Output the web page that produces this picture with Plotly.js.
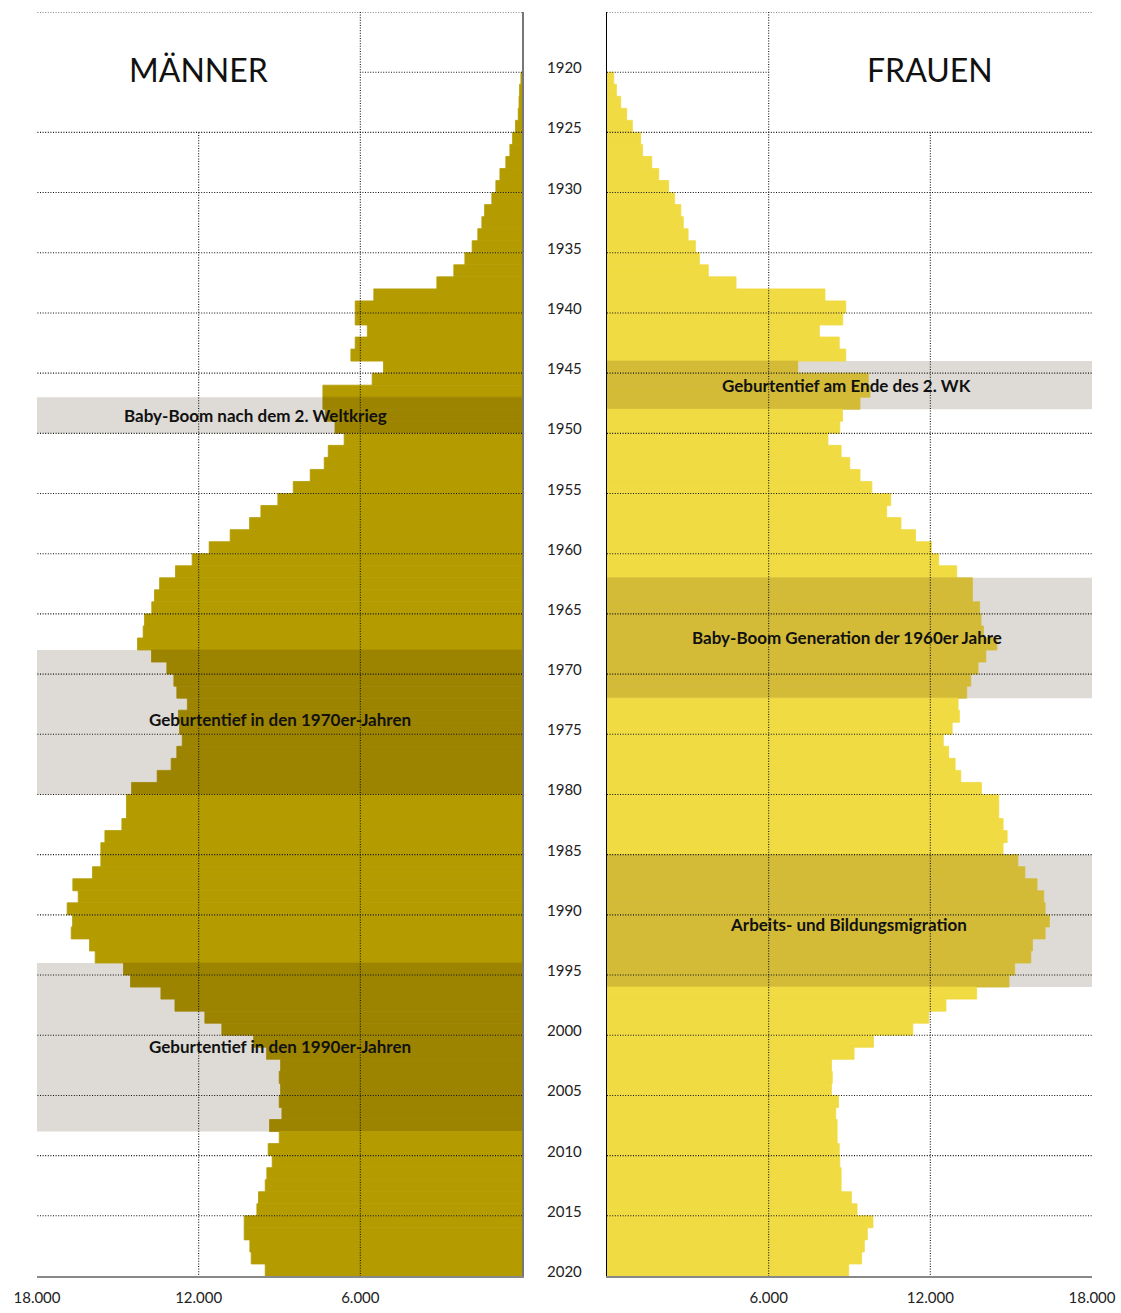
<!DOCTYPE html>
<html><head><meta charset="utf-8">
<script src="https://cdn.plot.ly/plotly-3.0.1.min.js"></script>
<style>html,body{margin:0;padding:0;background:#fff}#chart{width:1121px;height:1313px}</style>
</head><body><div id="chart"></div>
<script>
// ---- data ----
const years = [1920,1921,1922,1923,1924,1925,1926,1927,1928,1929,
1930,1931,1932,1933,1934,1935,1936,1937,1938,1939,
1940,1941,1942,1943,1944,1945,1946,1947,1948,1949,
1950,1951,1952,1953,1954,1955,1956,1957,1958,1959,
1960,1961,1962,1963,1964,1965,1966,1967,1968,1969,
1970,1971,1972,1973,1974,1975,1976,1977,1978,1979,
1980,1981,1982,1983,1984,1985,1986,1987,1988,1989,
1990,1991,1992,1993,1994,1995,1996,1997,1998,1999,
2000,2001,2002,2003,2004,2005,2006,2007,2008,2009,
2010,2011,2012,2013,2014,2015,2016,2017,2018,2019];

const men = [40,90,110,140,240,350,450,600,820,970,
1120,1390,1490,1640,1850,2120,2530,3160,5500,6190,
6190,5740,6190,6350,5140,5560,7390,7390,7300,6940,
6600,7190,7340,7860,8490,9060,9690,10110,10830,11610,
12240,12860,13450,13640,13740,14010,14060,14270,13750,13180,
12920,12810,12420,12750,12710,12610,12810,13020,13540,14490,
14680,14680,14850,15480,15630,15630,15940,16670,16470,16880,
16680,16730,16050,15840,14790,14530,13400,12880,11770,11140,
9960,9480,8960,9010,8960,9010,8910,9370,9010,9420,
9270,9470,9530,9780,9840,10310,10310,10100,10050,9530];

const women = [250,350,510,730,940,1250,1320,1660,1920,2290,
2510,2740,2830,3010,3280,3430,3760,4790,8090,8860,
8750,7880,8620,8860,7080,9700,9760,9390,8740,8640,
8200,8690,9010,9390,9830,10530,10380,10910,11450,12040,
12310,12980,13560,13560,13830,13880,13970,14470,14060,13770,
13500,13350,13030,13080,12810,12480,12680,12920,13130,13900,
14540,14540,14700,14850,14700,15250,15510,15960,16210,16260,
16420,16260,15790,15730,15130,14920,13720,12580,11940,11350,
9890,9170,8330,8360,8330,8590,8490,8540,8540,8620,
8640,8690,8690,9070,9280,9870,9660,9550,9450,8970];

const yearLabels = [1920,1925,1930,1935,1940,1945,1950,1955,1960,1965,1970,
1975,1980,1985,1990,1995,2000,2005,2010,2015,2020];
const gridYears = [1915,1920,1925,1930,1935,1940,1945,1950,1955,1960,1965,
1970,1975,1980,1985,1990,1995,2000,2005,2010,2015];
const xTickVals = [6000,12000,18000];
const xTickText = ['6.000','12.000','18.000'];

const menBandFrom = [1947,1968,1994];
const menBandTo = [1950,1980,2008];
const menBandLabels = ['Baby-Boom nach dem 2. Weltkrieg','Geburtentief in den 1970er-Jahren','Geburtentief in den 1990er-Jahren'];
const womenBandFrom = [1944,1962,1985];
const womenBandTo = [1948,1972,1996];
const womenBandLabels = ['Geburtentief am Ende des 2. WK','Baby-Boom Generation der 1960er Jahre','Arbeits- und Bildungsmigration'];

// ---- styles ----
const C = {
  men:'#b49c00', menDark:'#9d8400',
  women:'#f0db42', womenDark:'#d3bb38',
  band:'#dedbd6'
};
const FONT = 'Lato, "Open Sans", sans-serif';
const menLabelX = [9900, 9000, 9000];
const menLabelShift = [0, 3, 1];
const womenLabelX = [8900, 8900, 8980];
const womenLabelShift = [0, 0, -4];

function inBand(y, from, to){
  for (let i=0;i<from.length;i++) if (y>=from[i] && y<to[i]) return true;
  return false;
}
const menColors = years.map(y => inBand(y, menBandFrom, menBandTo) ? C.menDark : C.men);
const womenColors = years.map(y => inBand(y, womenBandFrom, womenBandTo) ? C.womenDark : C.women);

const traces = [
  {type:'bar', orientation:'h', x:men, y:years, width:1, offset:0,
   marker:{color:menColors, line:{width:0.8, color:menColors}}, xaxis:'x', yaxis:'y', hoverinfo:'x+y'},
  {type:'bar', orientation:'h', x:women, y:years, width:1, offset:0,
   marker:{color:womenColors, line:{width:0.8, color:womenColors}}, xaxis:'x2', yaxis:'y2', hoverinfo:'x+y'}
];

const shapes = [];
// bands
menBandFrom.forEach((f,i)=>shapes.push({type:'rect', xref:'x', yref:'y', x0:0, x1:18000, y0:f, y1:menBandTo[i],
  fillcolor:C.band, line:{width:0}, layer:'below'}));
womenBandFrom.forEach((f,i)=>shapes.push({type:'rect', xref:'x2', yref:'y2', x0:0, x1:18000, y0:f, y1:womenBandTo[i],
  fillcolor:C.band, line:{width:0}, layer:'below'}));
// dotted grid
const gl = {color:'#111', width:1.1, dash:'1px,1.6px'};
gridYears.forEach(g=>{
  const xe = (g===1920) ? 6000 : 18000;
  shapes.push({type:'line', xref:'x', yref:'y', x0:0, x1:xe, y0:g, y1:g, line:gl, layer:'above'});
  shapes.push({type:'line', xref:'x2', yref:'y2', x0:0, x1:xe, y0:g, y1:g, line:gl, layer:'above'});
});
[['x','y'],['x2','y2']].forEach(([xr,yr])=>{
  shapes.push({type:'line', xref:xr, yref:yr, x0:6000, x1:6000, y0:1915, y1:2020, line:gl, layer:'above'});
  shapes.push({type:'line', xref:xr, yref:yr, x0:12000, x1:12000, y0:1925, y1:2020, line:gl, layer:'above'});
});

const annotations = [];
yearLabels.forEach(y=>annotations.push({xref:'paper', yref:'y', x:564/1121, y:y, text:String(y), showarrow:false,
  xanchor:'center', yanchor:'middle', yshift:5, font:{family:FONT, size:15, color:'#222'}}));
menBandLabels.forEach((t,i)=>annotations.push({xref:'x', yref:'y', x:menLabelX[i], y:(menBandFrom[i]+menBandTo[i])/2,
  yshift:menLabelShift[i], text:t, showarrow:false, xanchor:'center', yanchor:'middle',
  font:{family:FONT, size:17, color:'#111', weight:'bold'}}));
womenBandLabels.forEach((t,i)=>annotations.push({xref:'x2', yref:'y2', x:womenLabelX[i], y:(womenBandFrom[i]+womenBandTo[i])/2,
  yshift:womenLabelShift[i], text:t, showarrow:false, xanchor:'center', yanchor:'middle',
  font:{family:FONT, size:17, color:'#111', weight:'bold'}}));
annotations.push({xref:'x', yref:'y', x:12000, y:1919.8, text:'MÄNNER', showarrow:false, xanchor:'center', yanchor:'middle',
  font:{family:FONT, size:32, color:'#111'}});
annotations.push({xref:'x2', yref:'y2', x:12000, y:1919.8, text:'FRAUEN', showarrow:false, xanchor:'center', yanchor:'middle',
  font:{family:FONT, size:32, color:'#111'}});

const xCommon = {tickvals:xTickVals, ticktext:xTickText, showgrid:false, zeroline:false, showline:true,
  linecolor:'#888', linewidth:2, ticks:'outside', ticklen:7, tickcolor:'rgba(0,0,0,0)',
  tickfont:{family:FONT, size:15, color:'#222'}, fixedrange:true, automargin:false};
const yCommon = {range:[2020,1915], showgrid:false, zeroline:false, showticklabels:false, ticks:'',
  fixedrange:true, automargin:false};

const layout = {
  width:1121, height:1313, margin:{l:0, r:0, t:12, b:37},
  paper_bgcolor:'#fff', plot_bgcolor:'rgba(0,0,0,0)', showlegend:false, barmode:'overlay',
  xaxis: Object.assign({}, xCommon, {domain:[37/1121, 522/1121], range:[18000,0], anchor:'y'}),
  xaxis2: Object.assign({}, xCommon, {domain:[607/1121, 1092/1121], range:[0,18000], anchor:'y2'}),
  yaxis: Object.assign({}, yCommon, {anchor:'x', side:'right', showline:true, linecolor:'#777', linewidth:2}),
  yaxis2: Object.assign({}, yCommon, {anchor:'x2', side:'left', showline:true, linecolor:'#000', linewidth:1.5}),
  shapes: shapes, annotations: annotations
};
Plotly.newPlot('chart', traces, layout, {displayModeBar:false, staticPlot:true});
</script></body></html>
